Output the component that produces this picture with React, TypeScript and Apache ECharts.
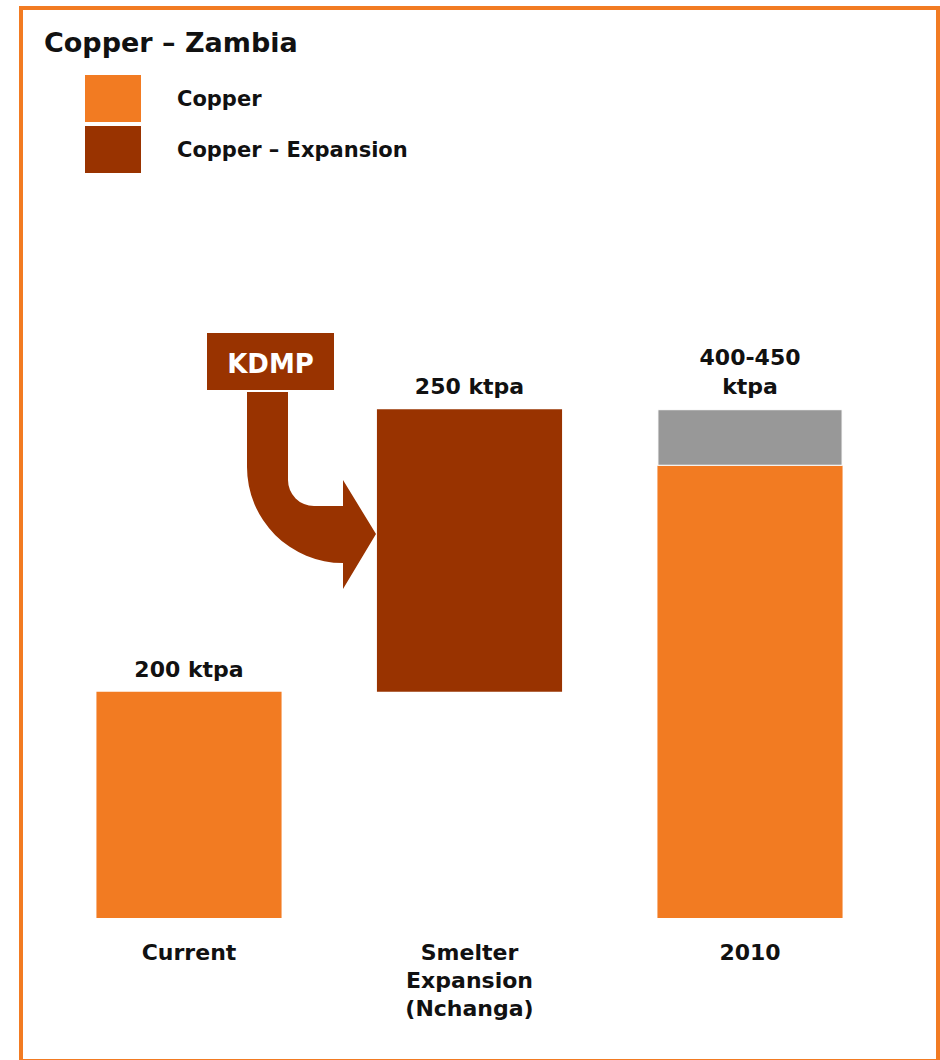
import React, { useEffect, useRef } from "react";
import * as echarts from "echarts";

const categories = ["Current", "Smelter\nExpansion\n(Nchanga)", "2010"];
const baseValues: (number | string)[] = [0, 200, 0];
const copperValues: (number | string)[] = [200, "-", 400];
const expansionValues: (number | string)[] = ["-", 250, "-"];
const rangeValues: (number | string)[] = ["-", "-", 50];
const valueLabels = ["200 ktpa", "250 ktpa", "400-450\nktpa"];
const legendNames = ["Copper", "Copper \u2013 Expansion"];
const titleText = "Copper \u2013 Zambia";
const annotationText = "KDMP";

const ORANGE = "#F27B22";
const BROWN = "#993300";
const GRAY = "#989898";
const FONT = "DejaVu Sans";

const ARROW_D =
  "M247 392 L288 392 L288 480 A26 26 0 0 0 314 506 L343 506 L343 480 L376 534 L343 589 L343 563 A96 96 0 0 1 247 467 Z";

let registered = false;

export default function App() {
  const ref = useRef<HTMLDivElement>(null);
  useEffect(() => {
    if (!ref.current) return;
    if (!registered) {
      echarts.graphic.registerShape("kdmpArrow", echarts.graphic.extendPath(ARROW_D, {}) as any);
      registered = true;
    }
    const chart = echarts.init(ref.current, undefined, { renderer: "svg" });

    const stacked = [
      { name: legendNames[0], values: copperValues, color: ORANGE, border: false },
      { name: legendNames[1], values: expansionValues, color: BROWN, border: false },
      { name: "Range", values: rangeValues, color: GRAY, border: true },
    ];
    const topOwner = categories.map((_, i) => {
      let owner = -1;
      stacked.forEach((s, si) => {
        if (s.values[i] !== "-") owner = si;
      });
      return owner;
    });

    const labelStyle = {
      position: "top" as const,
      distance: 8,
      fontFamily: FONT,
      fontWeight: "bold" as const,
      fontSize: 22,
      lineHeight: 29,
      color: "#111",
    };

    const series: any[] = [
      {
        name: "base",
        type: "bar",
        stack: "total",
        silent: true,
        barWidth: "66%",
        itemStyle: { color: "transparent" },
        data: baseValues,
      },
      ...stacked.map((s, si) => ({
        name: s.name,
        type: "bar",
        stack: "total",
        barWidth: "66%",
        itemStyle: s.border
          ? { color: s.color, borderColor: "#fff", borderWidth: 1 }
          : { color: s.color },
        data: s.values.map((v, i) => ({
          value: v,
          label: { show: topOwner[i] === si, formatter: valueLabels[i], ...labelStyle },
        })),
      })),
    ];

    chart.setOption({
      animation: false,
      backgroundColor: "#fff",
      title: {
        text: titleText,
        left: 44,
        top: 29,
        padding: 0,
        textStyle: { fontFamily: FONT, fontWeight: "bold", fontSize: 27, lineHeight: 26, color: "#111" },
      },
      legend: {
        data: legendNames,
        orient: "vertical",
        left: 85,
        top: 75,
        padding: 0,
        itemWidth: 56,
        itemHeight: 47,
        itemGap: 4,
        icon: "rect",
        selectedMode: false,
        textStyle: {
          fontFamily: FONT,
          fontWeight: "bold",
          fontSize: 21,
          color: "#111",
          padding: [0, 0, 0, 31],
        },
      },
      grid: { left: 48.75, right: 49.75, top: 243, bottom: 142, containLabel: false },
      xAxis: {
        type: "category",
        data: categories,
        axisLine: { show: false },
        axisTick: { show: false },
        axisLabel: {
          margin: 20,
          fontFamily: FONT,
          fontWeight: "bold",
          fontSize: 22,
          lineHeight: 28,
          color: "#111",
        },
      },
      yAxis: { type: "value", min: 0, max: 597, show: false, splitLine: { show: false } },
      series,
      graphic: [
        {
          type: "rect",
          shape: { x: 21, y: 8, width: 917, height: 1053 },
          style: { fill: "none", stroke: ORANGE, lineWidth: 4 },
          silent: true,
        },
        {
          type: "rect",
          shape: { x: 207, y: 333, width: 127, height: 57 },
          style: { fill: BROWN },
          silent: true,
        },
        {
          type: "text",
          x: 270.5,
          y: 364,
          style: {
            text: annotationText,
            fill: "#fff",
            font: `bold 26px "${FONT}"`,
            align: "center",
            verticalAlign: "middle",
          },
          silent: true,
        },
        {
          type: "kdmpArrow",
          x: 0,
          y: 0,
          style: { fill: BROWN },
          silent: true,
        },
      ],
    });
    return () => chart.dispose();
  }, []);
  return (
    <div
      ref={ref}
      style={{ position: "fixed", left: 0, top: 0, width: 940, height: 1060 }}
    />
  );
}
